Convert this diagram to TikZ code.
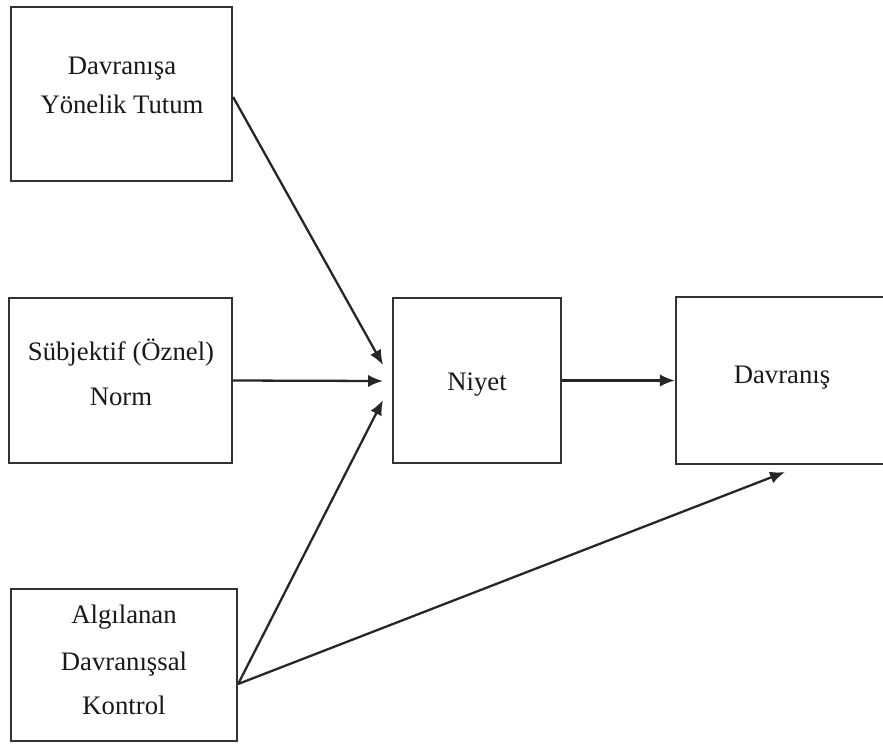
\documentclass[tikz,border=0pt]{standalone}
\usepackage{fontspec}
\setmainfont{Liberation Serif}
\usetikzlibrary{arrows.meta,calc}
\begin{document}
\begin{tikzpicture}[x=0.02cm,y=-0.02cm,
  box/.style={draw=black!80, line width=1.3pt, inner sep=0pt, fill=white},
  lbl/.style={anchor=base, inner sep=0pt, font=\fontsize{15.2}{18}\selectfont, text=black!90},
  conn/.style={draw=black!85, line width=1.3pt, -{Latex[length=8.5pt,width=7pt]}}]
\clip (0,0) rectangle (883,745);
\fill[white] (0,0) rectangle (883,745);
% boxes
\node[box, minimum width=4.42cm, minimum height=3.48cm] (b1) at (121.5,94) {};
\node[box, minimum width=4.46cm, minimum height=3.30cm] (b2) at (120.5,380.5) {};
\node[box, minimum width=4.52cm, minimum height=3.04cm] (b3) at (124,665) {};
\node[box, minimum width=3.36cm, minimum height=3.30cm] (niyet) at (477,380.5) {};
\node[box, minimum width=4.28cm, minimum height=3.34cm] (dav) at (783,380.5) {};
% labels
\node[lbl] (l1a) at (122,74) {Davranışa};
\node[lbl] (l1b) at (122,113) {Yönelik Tutum};
\node[lbl] (l2a) at (121,360) {Sübjektif (Öznel)};
\node[lbl] (l2b) at (121,405) {Norm};
\node[lbl] (l3a) at (124,623) {Algılanan};
\node[lbl] (l3b) at (124,670) {Davranışsal};
\node[lbl] (l3c) at (124,714) {Kontrol};
\node[lbl] (ln) at (477,390) {Niyet};
\node[lbl] (ld) at (782,383) {Davranış};
% connector end points
\coordinate (s1) at ($(b1.east)+(0,3)$);
\coordinate (k) at ($(b3.east)+(0,19)$);
\coordinate (t1) at (383,365);
\coordinate (t2) at (383,381);
\coordinate (t3) at (383,400);
\coordinate (t4) at (785,472);
% connectors
\draw[conn] (s1) -- (t1);
\draw[conn] (b2.east) -- (t2);
\draw[conn] (k) -- (t3);
\draw[conn] (k) -- (t4);
\draw[conn] (niyet.east) -- (dav.west);
\end{tikzpicture}
\end{document}
